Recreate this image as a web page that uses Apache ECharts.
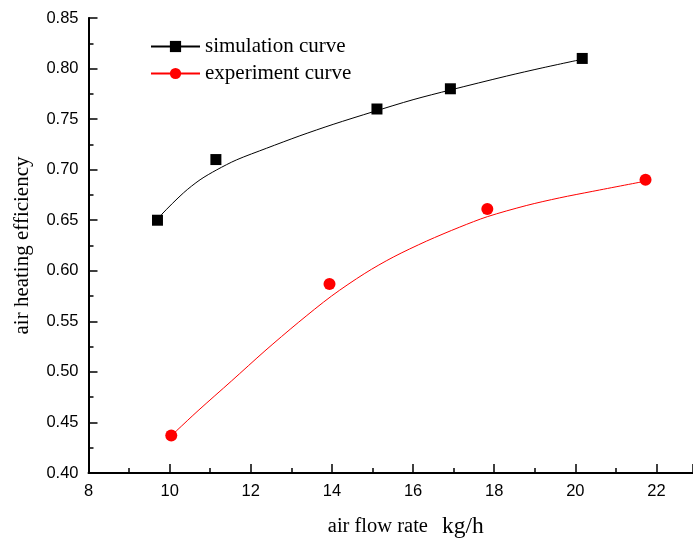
<!DOCTYPE html>
<html>
<head>
<meta charset="utf-8">
<script src="https://cdn.jsdelivr.net/npm/echarts@6/dist/echarts.min.js"></script>
<style>
html, body { margin: 0; padding: 0; background: #fff; }
#chart { width: 693px; height: 544px; }
</style>
</head>
<body>
<div id="chart"></div>
<script>
// measured points
var simPoints = [[9.7, 0.65], [11.14, 0.71], [15.11, 0.76], [16.92, 0.78], [20.17, 0.81]];
var expPoints = [[10.04, 0.437], [13.94, 0.587], [17.83, 0.661], [21.73, 0.69]];

// fitted curves
var simCurve = [
    [9.7, 0.65], [9.8, 0.6556], [10.34, 0.677], [10.75, 0.69], [11.16, 0.6998],
    [11.65, 0.7097], [12.39, 0.7212], [13.21, 0.7335], [14.03, 0.7448],
    [15.01, 0.7572], [16.0, 0.7692], [16.92, 0.7788], [18.3, 0.7925],
    [19.2, 0.8008], [20.17, 0.8092]
];
var expCurve = [
    [10.04, 0.437], [10.17, 0.4418], [10.7, 0.4616], [11.53, 0.4912], [12.35, 0.5208],
    [13.17, 0.5488], [13.99, 0.575], [14.81, 0.5974], [15.51, 0.6135], [16.33, 0.6293],
    [17.15, 0.6432], [17.83, 0.6535], [18.79, 0.6645], [19.61, 0.6721], [20.43, 0.6786],
    [21.71, 0.6885]
];

var chart = echarts.init(document.getElementById('chart'));

var axisFont = { fontFamily: 'Liberation Sans', fontSize: 16.5, color: '#000' };
var serif = 'Liberation Serif';

option = {
    animation: false,
    backgroundColor: '#fff',
    grid: { left: 88.5, right: 0, top: 18, bottom: 70 },
    legend: {
        left: 145,
        top: 31,
        orient: 'vertical',
        itemWidth: 49,
        itemHeight: 14,
        itemGap: 6,
        textStyle: { fontFamily: serif, fontSize: 21, color: '#000' },
        data: ['simulation curve', 'experiment curve']
    },
    xAxis: {
        type: 'value',
        min: 8,
        max: 22.9,
        interval: 2,
        name: '{a|air flow rate}{b|kg/h}',
        nameLocation: 'middle',
        nameGap: 42,
        nameTextStyle: {
            padding: [0, 0, 0, 30],
            rich: {
                a: { fontFamily: serif, fontSize: 20.5, color: '#000', padding: [0, 14, 0, 0] },
                b: { fontFamily: serif, fontSize: 23.5, color: '#000' }
            }
        },
        axisLine: { lineStyle: { color: '#000', width: 2 } },
        axisTick: { inside: true, length: 9, lineStyle: { color: '#000', width: 1.5 } },
        minorTick: { show: true, splitNumber: 2, length: 5, lineStyle: { color: '#000', width: 1.5 } },
        axisLabel: Object.assign({ margin: 10, showMaxLabel: false }, axisFont),
        splitLine: { show: false }
    },
    yAxis: {
        type: 'value',
        min: 0.40,
        max: 0.85,
        interval: 0.05,
        name: 'air heating efficiency',
        nameLocation: 'middle',
        nameGap: 56,
        nameTextStyle: { fontFamily: serif, fontSize: 21, color: '#000' },
        axisLine: { show: true, lineStyle: { color: '#000', width: 2 } },
        axisTick: { show: true, inside: true, length: 9, lineStyle: { color: '#000', width: 1.5 } },
        minorTick: { show: true, splitNumber: 2, length: 5, lineStyle: { color: '#000', width: 1.5 } },
        axisLabel: Object.assign({
            margin: 10,
            formatter: function (v) { return v.toFixed(2); }
        }, axisFont),
        splitLine: { show: false }
    },
    series: [
        {
            name: 'simulation curve',
            type: 'line',
            data: simCurve,
            smooth: 0.3,
            symbol: 'rect',
            symbolSize: 12,
            showSymbol: false,
            itemStyle: { color: '#000' },
            lineStyle: { color: '#000', width: 1 },
            z: 2
        },
        {
            name: 'simulation curve',
            type: 'scatter',
            data: simPoints,
            symbol: 'rect',
            symbolSize: 11,
            itemStyle: { color: '#000', opacity: 1 },
            z: 3
        },
        {
            name: 'experiment curve',
            type: 'line',
            data: expCurve,
            smooth: 0.3,
            symbol: 'circle',
            symbolSize: 13,
            showSymbol: false,
            itemStyle: { color: '#ff0000' },
            lineStyle: { color: '#ff0000', width: 1 },
            z: 2
        },
        {
            name: 'experiment curve',
            type: 'scatter',
            data: expPoints,
            symbol: 'circle',
            symbolSize: 12,
            itemStyle: { color: '#ff0000', opacity: 1 },
            z: 3
        }
    ]
};

chart.setOption(option);
</script>
</body>
</html>
